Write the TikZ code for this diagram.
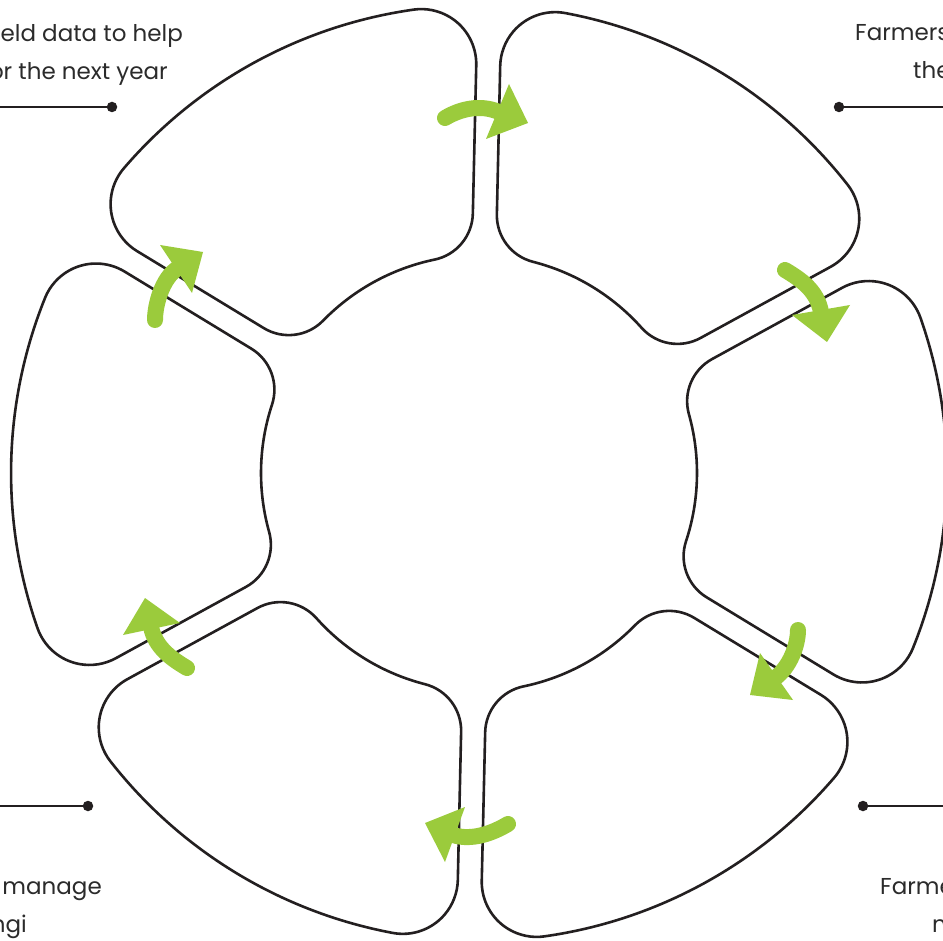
\documentclass[tikz,border=0pt]{standalone}
\usepackage{fontspec}
\setmainfont{Poppins}
\definecolor{ink}{HTML}{231F20}
\definecolor{txt}{HTML}{2B2B2B}
\definecolor{leaf}{HTML}{9BCB3C}
\tikzset{
  piece/.style={draw=ink, line width=2.6pt, line join=round},
  shaft/.style={draw=leaf, line width=16pt, line cap=round},
  head/.style={fill=leaf},
  leader/.style={draw=ink, line width=2.9pt},
  dot/.style={circle, fill=ink, inner sep=0pt, minimum size=10.5pt},
  lbl/.style={text=txt, font=\fontsize{23}{38}\selectfont, inner sep=0pt}
}
\newcommand\ringpiece[1]{%
  \draw[piece, rotate=#1] (-20.67:468) arc[start angle=-20.67, end angle=20.67, radius=468]
    arc[start angle=20.67, end angle=120, radius=55]
    -- (230.43,119.18)
    arc[start angle=120, end angle=196.96, radius=48]
    arc[start angle=16.96, end angle=-16.96, radius=218]
    arc[start angle=163.04, end angle=240, radius=48]
    -- (358.93,-193.38)
    arc[start angle=240, end angle=339.33, radius=55]
    -- cycle;}
\begin{document}
\begin{tikzpicture}[x=1pt,y=1pt]
\useasboundingbox[fill=white] (0,0) rectangle (943,-941);
% ring of six pieces
\begin{scope}[shift={(479,-473)}, rotate=-1.3]
  \ringpiece{0}
  \ringpiece{60}
  \ringpiece{120}
  \ringpiece{180}
  \ringpiece{240}
  \ringpiece{300}
\end{scope}
% green arrows
\coordinate (a1t) at (445,-118); \coordinate (a1b) at (499,-112);
\draw[shaft] (a1t) .. controls (460,-109) and (480,-104) .. (a1b);
\fill[head] (509,-84) -- (528,-123) -- (486,-139) -- cycle;
\coordinate (a2t) at (785,-270); \coordinate (a2b) at (821,-312);
\draw[shaft] (a2t) .. controls (800,-279) and (817,-290) .. (a2b);
\fill[head] (792,-315) -- (850,-305) -- (827,-342) -- cycle;
\coordinate (a3t) at (798,-630); \coordinate (a3b) at (775,-678);
\draw[shaft] (a3t) .. controls (798,-645) and (790,-667) .. (a3b);
\fill[head] (760,-653) -- (750,-695) -- (793,-700) -- cycle;
\coordinate (a4t) at (508,-824); \coordinate (a4b) at (453,-835);
\draw[shaft] (a4t) .. controls (493,-833) and (472,-841) .. (a4b);
\fill[head] (465,-807) -- (425,-823) -- (445,-862) -- cycle;
\coordinate (a5t) at (187,-668); \coordinate (a5b) at (151,-627);
\draw[shaft] (a5t) .. controls (172,-659) and (155.5,-648) .. (a5b);
\fill[head] (145,-598) -- (123,-635) -- (180,-623) -- cycle;
\coordinate (a6t) at (155,-320); \coordinate (a6b) at (178,-268);
\draw[shaft] (a6t) .. controls (155,-305) and (162,-278) .. (a6b);
\fill[head] (160,-245) -- (203,-252) -- (192,-293) -- cycle;
% leaders
\coordinate (tlEnd) at (0,-107);
\node[dot] (tlDot) at (112,-107) {};
\draw[leader] (tlEnd) -- (tlDot);
\coordinate (trEnd) at (943,-107);
\node[dot] (trDot) at (839,-107) {};
\draw[leader] (trDot) -- (trEnd);
\coordinate (blEnd) at (0,-806);
\node[dot] (blDot) at (88,-806) {};
\draw[leader] (blEnd) -- (blDot);
\coordinate (brEnd) at (943,-806);
\node[dot] (brDot) at (863,-806) {};
\draw[leader] (brDot) -- (brEnd);
% labels
\node[lbl, anchor=base east] (tl1) at (183,-42) {eld data to help};
\node[lbl, anchor=base east] (tl2) at (168,-80) {or the next year};
\node[lbl, anchor=base west] (tr1) at (855,-41) {Farmers};
\node[lbl, anchor=base west] (tr2) at (913,-79) {the};
\node[lbl, anchor=base east] (bl1) at (102,-894) {manage};
\node[lbl, anchor=base east] (bl2) at (27,-932) {ngi};
\node[lbl, anchor=base west] (br1) at (880,-894) {Farme};
\node[lbl, anchor=base west] (br2) at (932,-932) {n};
\end{tikzpicture}
\end{document}
